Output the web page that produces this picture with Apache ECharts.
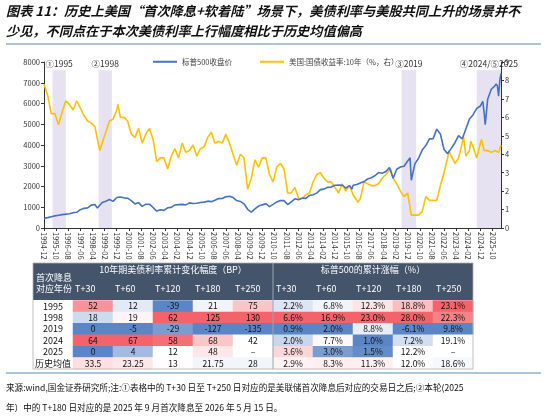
<!DOCTYPE html>
<html><head><meta charset="utf-8">
<script src="https://cdn.jsdelivr.net/npm/echarts@6/dist/echarts.min.js"></script>
<style>html,body{margin:0;padding:0;background:#fff}#c{width:550px;height:417px}</style>
</head><body><div id="c"></div>
<script>
const spx = [['1994-12',459],['1995-03',500],['1995-06',545],['1995-09',584],['1995-12',615],
['1996-03',645],['1996-06',670],['1996-09',687],['1996-12',740],['1997-03',757],['1997-06',885],['1997-09',947],['1997-12',970],
['1998-03',1101],['1998-06',1133],['1998-08',960],['1998-09',1017],['1998-12',1229],['1999-03',1286],['1999-06',1372],['1999-09',1282],['1999-12',1469],
['2000-03',1498],['2000-06',1454],['2000-09',1436],['2000-12',1320],['2001-03',1160],['2001-06',1224],['2001-09',1040],['2001-12',1148],
['2002-03',1147],['2002-06',989],['2002-09',815],['2002-12',879],['2003-03',848],['2003-06',974],['2003-09',995],['2003-12',1111],
['2004-03',1126],['2004-06',1140],['2004-09',1114],['2004-12',1211],['2005-03',1180],['2005-06',1191],['2005-09',1228],['2005-12',1248],
['2006-03',1294],['2006-06',1270],['2006-09',1335],['2006-12',1418],['2007-03',1420],['2007-06',1503],['2007-09',1526],['2007-12',1468],
['2008-03',1322],['2008-06',1280],['2008-09',1166],['2008-12',903],['2009-03',760],['2009-06',919],['2009-09',1057],['2009-12',1115],
['2010-03',1169],['2010-06',1030],['2010-09',1141],['2010-12',1257],['2011-03',1325],['2011-06',1320],['2011-09',1131],['2011-12',1257],
['2012-03',1408],['2012-06',1362],['2012-09',1440],['2012-12',1426],['2013-03',1569],['2013-06',1606],['2013-09',1681],['2013-12',1848],
['2014-03',1872],['2014-06',1960],['2014-09',1972],['2014-12',2058],['2015-03',2067],['2015-06',2063],['2015-09',1920],['2015-12',2043],
['2016-02',1880],['2016-03',2059],['2016-06',2098],['2016-09',2168],['2016-12',2238],['2017-03',2362],['2017-06',2423],['2017-09',2519],['2017-12',2673],
['2018-03',2640],['2018-06',2718],['2018-09',2913],['2018-12',2400],['2019-03',2834],['2019-06',2941],['2019-09',2976],['2019-12',3230],
['2020-02',3380],['2020-03',2300],['2020-06',3100],['2020-09',3363],['2020-12',3756],['2021-03',3972],['2021-06',4297],['2021-09',4307],['2021-12',4766],
['2022-03',4530],['2022-06',3785],['2022-09',3585],['2022-12',3839],['2023-03',4109],['2023-06',4450],['2023-09',4288],['2023-12',4769],
['2024-03',5254],['2024-06',5460],['2024-09',5762],['2024-12',5881],['2025-02',6100],['2025-03',5611],['2025-04',4980],['2025-06',6205],['2025-09',6688],['2025-12',6850],
['2026-01',6950],['2026-02',6850],['2026-03',6350],['2026-04',7100],['2026-05',7450]];
const ust10y = [['1994-12',7.8],['1995-03',7.2],['1995-06',6.2],['1995-09',6.2],['1995-12',5.6],
['1996-03',6.3],['1996-06',6.9],['1996-09',6.7],['1996-12',6.4],['1997-03',6.9],['1997-06',6.5],['1997-09',6.1],['1997-12',5.8],
['1998-03',5.7],['1998-06',5.5],['1998-10',4.2],['1998-12',4.6],['1999-03',5.2],['1999-06',5.8],['1999-09',5.9],['1999-12',6.4],
['2000-01',6.7],['2000-03',6.0],['2000-06',6.0],['2000-09',5.8],['2000-12',5.1],['2001-03',4.9],['2001-06',5.4],['2001-09',4.6],['2001-12',5.1],
['2002-03',5.4],['2002-06',4.8],['2002-09',3.6],['2002-12',3.8],['2003-03',3.8],['2003-06',3.2],['2003-09',3.9],['2003-12',4.3],
['2004-03',3.8],['2004-06',4.6],['2004-09',4.1],['2004-12',4.2],['2005-03',4.5],['2005-06',3.9],['2005-09',4.3],['2005-12',4.4],
['2006-03',4.9],['2006-06',5.2],['2006-09',4.6],['2006-12',4.7],['2007-03',4.6],['2007-06',5.1],['2007-09',4.6],['2007-12',4.0],
['2008-03',3.4],['2008-06',4.0],['2008-09',3.8],['2008-12',2.1],['2009-03',2.7],['2009-06',3.7],['2009-09',3.3],['2009-12',3.8],
['2010-03',3.8],['2010-06',2.9],['2010-09',2.5],['2010-12',3.3],['2011-03',3.5],['2011-06',3.2],['2011-09',1.9],['2011-12',1.9],
['2012-03',2.2],['2012-06',1.6],['2012-09',1.6],['2012-12',1.8],['2013-03',1.9],['2013-06',2.5],['2013-09',2.9],['2013-12',3.0],
['2014-03',2.7],['2014-06',2.5],['2014-09',2.5],['2014-12',2.2],['2015-03',1.9],['2015-06',2.4],['2015-09',2.0],['2015-12',2.3],
['2016-03',1.8],['2016-07',1.4],['2016-09',1.6],['2016-12',2.5],['2017-03',2.4],['2017-06',2.3],['2017-09',2.3],['2017-12',2.4],
['2018-03',2.7],['2018-06',2.9],['2018-10',3.2],['2018-12',2.7],['2019-03',2.4],['2019-06',2.0],['2019-09',1.7],['2019-12',1.9],
['2020-03',0.7],['2020-06',0.7],['2020-09',0.7],['2020-12',0.9],['2021-03',1.7],['2021-06',1.5],['2021-09',1.5],['2021-12',1.5],
['2022-03',2.3],['2022-06',3.0],['2022-09',3.8],['2022-10',4.2],['2022-12',3.9],['2023-03',3.5],['2023-06',3.8],['2023-09',4.6],['2023-10',5.0],['2023-12',3.9],
['2024-03',4.2],['2024-04',4.7],['2024-06',4.4],['2024-09',3.8],['2024-12',4.6],['2025-01',4.8],['2025-03',4.2],['2025-06',4.2],['2025-09',4.1],['2025-12',4.2],
['2026-01',4.2],['2026-03',4.1],['2026-05',4.5]];
const shadeAreas = [['1995-07','1996-06','①1995'],['1998-09','1999-08','②1998'],['2019-07','2020-07','③2019'],['2024-09','2026-05','④2024/⑤2025']];
const rowLabels = ['1995','1998','2019','2024','2025','历史均值'];
const colLabels = ['T+30','T+60','T+120','T+180','T+250'];
const bondBp = [[52,12,-39,21,75],[18,19,62,125,130],[0,-5,-29,-127,-135],[64,67,58,68,42],[0,4,12,48,null],[33.5,23.25,13,21.75,28]];
const spxPct = [[2.2,6.8,12.3,18.8,23.1],[6.6,16.9,23.0,28.0,22.3],[0.9,2.0,8.8,-6.1,9.8],[2.0,7.7,1.0,7.2,19.1],[3.6,3.0,1.5,12.2,null],[2.9,8.3,11.3,12.0,18.6]];

const months = [];
for (let y = 1994, m = 12; y < 2026 || (y === 2026 && m <= 5); ) {
  months.push(y + '-' + String(m).padStart(2, '0'));
  m++; if (m > 12) { m = 1; y++; }
}
const FONT = 'Noto Sans CJK SC';
const BLUE = [90,134,198], WHITE = [255,255,255], RED = [244,99,106];
function mix(a, b, t) { return 'rgb(' + a.map((v, i) => Math.round(v + (b[i] - v) * t)).join(',') + ')'; }
function scaleColor(v, col) {
  const s = col.slice().sort((a, b) => a - b);
  const min = s[0], max = s[s.length - 1];
  const mid = s.length % 2 ? s[(s.length - 1) / 2] : (s[s.length / 2 - 1] + s[s.length / 2]) / 2;
  if (v <= mid) return mix(BLUE, WHITE, mid === min ? 1 : (v - min) / (mid - min));
  return mix(WHITE, RED, max === mid ? 0 : (v - mid) / (max - mid));
}
const chart = echarts.init(document.getElementById('c'));
const series = [
  {type:'line', name:'标普500收盘价', data:spx, xAxisIndex:0, yAxisIndex:0, showSymbol:false, lineStyle:{width:1.6, color:'#4472c4'}, itemStyle:{color:'#4472c4'}, z:3,
   markArea:{silent:true, itemStyle:{color:'rgba(200,190,225,0.45)'},
     label:{position:'top', color:'#333', fontSize:8.5, fontFamily:FONT, distance:2},
     data: shadeAreas.map(a => [{name:a[2], xAxis:a[0], yAxis:0}, {xAxis:a[1], yAxis:7600}])}},
  {type:'line', name:'美国:国债收益率:10年（%，右）', data:ust10y, xAxisIndex:0, yAxisIndex:1, showSymbol:false, lineStyle:{width:1.6, color:'#ffc000'}, itemStyle:{color:'#ffc000'}, z:2}
];
function addBlock(values, offset, fmt) {
  const data = [];
  for (let c = 0; c < 5; c++) {
    const col = values.map(r => r[c]).filter(v => v !== null);
    values.forEach((r, ri) => {
      const v = r[c];
      data.push({value:[offset + c, ri, v === null ? 0 : v], txt: v === null ? '–' : fmt(v),
        itemStyle:{color: v === null ? '#fff' : scaleColor(v, col)}});
    });
  }
  series.push({type:'heatmap', xAxisIndex:1, yAxisIndex:2, data:data,
    label:{show:true, fontSize:8.5, color:'#111', fontFamily:FONT, formatter:p => p.data.txt}});
}
addBlock(bondBp, 0, v => String(v));
addBlock(spxPct, 5, v => v.toFixed(1) + '%');

const colX = [75,115,155,195,235,276,316,356,396,436];
const graphics = [
  {type:'text', left:6, top:4, style:{text:'图表 11：历史上美国“首次降息+软着陆”场景下，美债利率与美股共同上升的场景并不', fontSize:13.2, fontWeight:'bold', fontStyle:'italic', fontFamily:FONT, fill:'#111'}},
  {type:'text', left:6, top:24, style:{text:'少见，不同点在于本次美债利率上行幅度相比于历史均值偏高', fontSize:13.2, fontWeight:'bold', fontStyle:'italic', fontFamily:FONT, fill:'#111'}},
  {type:'line', shape:{x1:6, y1:44, x2:541, y2:44}, style:{stroke:'#5b8bb5', lineWidth:1}},
  {type:'rect', shape:{x:33, y:263, width:440, height:37}, style:{fill:'#44546a'}},
  {type:'line', shape:{x1:273, y1:263, x2:273, y2:369}, style:{stroke:'#9aa4b2', lineWidth:1}, z:10},
  {type:'rect', shape:{x:33, y:263, width:440, height:106}, style:{fill:'none', stroke:'#b0b0b0', lineWidth:0.8}, z:10},
  {type:'text', x:173, y:270, style:{text:'10年期美债利率累计变化幅度（BP）', fontSize:9, fill:'#fff', fontFamily:FONT, align:'center', verticalAlign:'middle'}},
  {type:'text', x:373, y:270, style:{text:'标普500的累计涨幅（%）', fontSize:9, fill:'#fff', fontFamily:FONT, align:'center', verticalAlign:'middle'}},
  {type:'text', x:36, y:278, style:{text:'首次降息', fontSize:9, fill:'#fff', fontFamily:FONT, verticalAlign:'middle'}},
  {type:'text', x:36, y:289, style:{text:'对应年份', fontSize:9, fill:'#fff', fontFamily:FONT, verticalAlign:'middle'}},
  {type:'line', shape:{x1:6, y1:373, x2:541, y2:373}, style:{stroke:'#5b8bb5', lineWidth:1}},
  {type:'text', left:6, top:383, style:{text:'来源:wind,国金证券研究所;注:①表格中的 T+30 日至 T+250 日对应的是美联储首次降息后对应的交易日之后;②本轮(2025', fontSize:8.6, fill:'#111', fontFamily:FONT}},
  {type:'text', left:6, top:403, style:{text:'年）中的 T+180 日对应的是 2025 年 9 月首次降息至 2026 年 5 月 15 日。', fontSize:8.6, fill:'#111', fontFamily:FONT}}
];
colX.forEach((x, i) => graphics.push({type:'text', x:x, y:289, style:{text:colLabels[i % 5], fontSize:9, fill:'#fff', fontFamily:FONT, verticalAlign:'middle'}}));

chart.setOption({
  animation:false,
  textStyle:{fontFamily:FONT},
  legend:{top:53, left:148, itemWidth:24, itemHeight:2, icon:'rect', itemGap:28, textStyle:{fontSize:7.5, color:'#444'}, data:['标普500收盘价','美国:国债收益率:10年（%，右）']},
  grid:[{left:44, right:49, top:62, bottom:189}, {left:73, width:400, top:300.5, height:68.5}],
  xAxis:[
    {type:'category', gridIndex:0, data:months, boundaryGap:false,
     axisLine:{lineStyle:{color:'#333'}}, axisTick:{interval:9, length:3},
     axisLabel:{interval:9, rotate:-90, fontSize:7.5, color:'#333', margin:4}},
    {type:'category', gridIndex:1, data:[0,1,2,3,4,5,6,7,8,9], show:false}
  ],
  yAxis:[
    {type:'value', gridIndex:0, min:0, max:8000, interval:1000, splitLine:{show:false},
     axisLine:{show:true, lineStyle:{color:'#333'}}, axisTick:{show:true, length:3}, axisLabel:{fontSize:7.5, color:'#333', margin:4, formatter:v => String(v)}},
    {type:'value', gridIndex:0, min:0, max:9, interval:1, position:'right', splitLine:{show:false},
     axisLine:{show:true, lineStyle:{color:'#333'}}, axisTick:{show:true, length:3}, axisLabel:{fontSize:7.5, color:'#333', margin:4}},
    {type:'category', gridIndex:1, data:rowLabels, inverse:true, axisLine:{show:false}, axisTick:{show:false}, splitLine:{show:false},
     axisLabel:{interval:0, fontSize:9, color:'#111', margin:20, align:'center'}}
  ],
  series:series,
  graphic:graphics
});
</script></body></html>
